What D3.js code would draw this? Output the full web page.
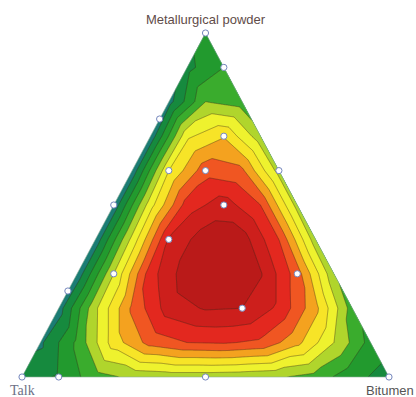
<!DOCTYPE html>
<html>
<head>
<meta charset="utf-8">
<script src="https://cdn.jsdelivr.net/npm/d3@7"></script>
<style>
  html, body { margin: 0; padding: 0; background: #fff; }
  svg { display: block; }
</style>
</head>
<body>
<svg id="chart" width="416" height="397"></svg>
<script>
// Components of the mixture (top, bottom-left, bottom-right vertices)
const components = ["Metallurgical powder", "Talk", "Bitumen"];

// Mixture design runs, as fractions of each component
const designPowder  = [1, 0.9, 0.75, 0.7, 0.6, 0.6, 0.6, 0.5, 0.5, 0.4, 0.3, 0.3, 0.25, 0.2, 0, 0, 0, 0];
const designTalk    = [0, 0, 0.25, 0.1, 0.3, 0.2, 0, 0.5, 0.2, 0.4, 0.6, 0.1, 0.75, 0.3, 1, 0.9, 0.5, 0];
const designBitumen = [0, 0.1, 0, 0.2, 0.1, 0.2, 0.4, 0, 0.3, 0.2, 0.1, 0.6, 0, 0.5, 0, 0.1, 0.5, 1];

// Response on a 0.1 simplex lattice. One row per powder level (100% down to 0%),
// each row running from most talk to most bitumen.
const latticeStep = 10;
const response = [
  [2.5],
  [1.7, 3.0],
  [0.6, 4.0, 3.5],
  [0.3, 5.8, 6.9, 4.4],
  [0.3, 6.0, 8.6, 8.2, 4.6],
  [0.3, 5.6, 9.5, 10.5, 9.0, 4.6],
  [0.3, 5.3, 10.1, 11.6, 11.5, 9.0, 4.4],
  [0.3, 5.0, 9.6, 11.6, 12.0, 11.1, 8.5, 4.2],
  [0.5, 4.8, 8.2, 10.5, 11.1, 11.0, 9.8, 7.3, 3.5],
  [0.8, 3.2, 6.5, 8.4, 9.0, 9.1, 8.8, 7.3, 5.0, 2.6],
  [1.6, 2.1, 3.6, 4.2, 4.4, 4.4, 4.3, 4.1, 3.6, 2.3, 1.6]
];

// Contour levels and band colours (lowest band first)
const levels = [1, 2, 3, 4, 5, 6, 7, 8, 9, 10, 11];
const bandColors = ["#1b7d74", "#168a3e", "#229a2e", "#3aac2d", "#b0d52c", "#eef22e",
                    "#f7e427", "#f4a21f", "#f05622", "#e3281f", "#cd1f1c", "#ba1a19"];

const N = latticeStep;
const node = (P, T, B) => response[N - P][B];

// Linear interpolation inside the lattice triangle holding (p, t, b)
function valueAt(p, t, b) {
  p = Math.max(0, p); t = Math.max(0, t); b = Math.max(0, b);
  const s = p + t + b;
  const P = p / s * N, T = t / s * N, B = b / s * N;
  const i = Math.floor(P), j = Math.floor(T), k = Math.floor(B);
  const fp = P - i, ft = T - j, fb = B - k;
  const r = N - i - j - k;
  if (r === 1) {
    return fp * node(i + 1, j, k) + ft * node(i, j + 1, k) + fb * node(i, j, k + 1);
  }
  if (r === 2) {
    return (1 - fp) * node(i, j + 1, k + 1) + (1 - ft) * node(i + 1, j, k + 1)
         + (1 - fb) * node(i + 1, j + 1, k);
  }
  // on (or numerically next to) a lattice node
  let Pi = Math.round(P), Ti = Math.round(T);
  Pi = Math.min(N, Pi); Ti = Math.min(N - Pi, Ti);
  return node(Pi, Ti, N - Pi - Ti);
}

const svg = d3.select("#chart");

// Ternary frame: powder fraction runs bottom->top, (bitumen - talk) runs left->right
const yScale = d3.scaleLinear().domain([0, 1]).range([377, 33]);
const xScale = d3.scaleLinear().domain([-1, 1]).range([22, 389]);
const project = (p, t, b) => [xScale(b - t), yScale(p)];

const vTop = project(1, 0, 0), vLeft = project(0, 1, 0), vRight = project(0, 0, 1);
const triPoints = [vTop, vLeft, vRight].map(d => d.join(",")).join(" ");

svg.append("defs").append("clipPath").attr("id", "tri")
  .append("polygon").attr("points", triPoints);

// Sample the response on a pixel grid covering the triangle
const x0 = 14, y0 = 26, x1 = 398, y1 = 385;
const nx = x1 - x0, ny = y1 - y0;
const values = new Float64Array(nx * ny);
for (let j = 0; j < ny; j++) {
  const p = yScale.invert(y0 + j + 0.5);
  for (let i = 0; i < nx; i++) {
    const d = xScale.invert(x0 + i + 0.5);
    const t = (1 - p - d) / 2, b = (1 - p + d) / 2;
    values[j * nx + i] = valueAt(p, t, b);
  }
}

const bands = d3.contours().size([nx, ny]).thresholds([-1e6, ...levels])(values);
const path = d3.geoPath(d3.geoIdentity().translate([x0, y0]));

const plot = svg.append("g").attr("clip-path", "url(#tri)");

plot.selectAll("path.band")
  .data(bands)
  .join("path")
  .attr("class", "band")
  .attr("d", path)
  .attr("fill", (d, i) => bandColors[i]);

plot.selectAll("path.iso")
  .data(bands.slice(1))
  .join("path")
  .attr("class", "iso")
  .attr("d", path)
  .attr("fill", "none")
  .attr("stroke", "#3a2a1e")
  .attr("stroke-opacity", 0.6)
  .attr("stroke-width", 0.7);

// Triangle outline
svg.append("polygon")
  .attr("points", triPoints)
  .attr("fill", "none")
  .attr("stroke", "#8fae9a")
  .attr("stroke-width", 0.6);

// Design points
svg.selectAll("circle.run")
  .data(d3.range(designPowder.length))
  .join("circle")
  .attr("class", "run")
  .attr("cx", i => project(designPowder[i], designTalk[i], designBitumen[i])[0])
  .attr("cy", i => project(designPowder[i], designTalk[i], designBitumen[i])[1])
  .attr("r", 3.1)
  .attr("fill", "#fff")
  .attr("stroke", "#7587bd")
  .attr("stroke-width", 1);

// Vertex labels
svg.append("text")
  .attr("x", vTop[0]).attr("y", 24)
  .attr("text-anchor", "middle")
  .attr("font-family", "'Liberation Sans', Arial, sans-serif")
  .attr("font-size", 13)
  .attr("fill", "#5f4c49")
  .text(components[0]);

svg.append("text")
  .attr("x", 10).attr("y", 395)
  .attr("font-family", "'Liberation Serif', 'Times New Roman', serif")
  .attr("font-size", 14)
  .attr("fill", "#6c6f86")
  .text(components[1]);

svg.append("text")
  .attr("x", 366).attr("y", 395)
  .attr("font-family", "'Liberation Sans', Arial, sans-serif")
  .attr("font-size", 13)
  .attr("fill", "#555")
  .text(components[2]);
</script>
</body>
</html>
